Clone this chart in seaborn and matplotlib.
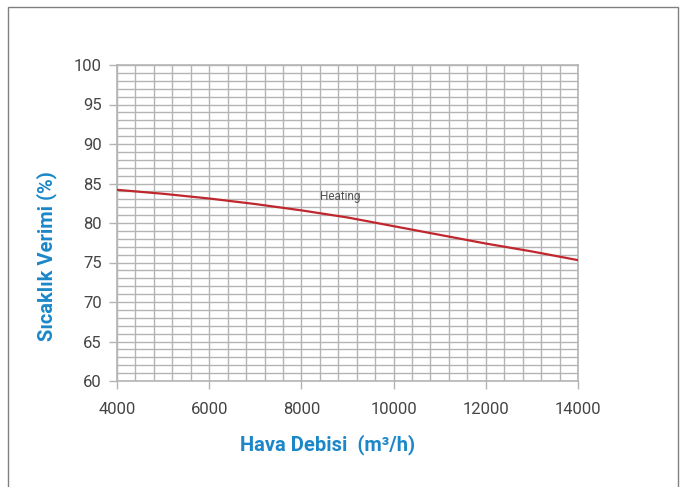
import numpy as np
import pandas as pd
import matplotlib
matplotlib.use("Agg")
import matplotlib.pyplot as plt
import matplotlib.ticker as mticker
from matplotlib.patches import Rectangle
import seaborn as sns

# ── Data ────────────────────────────────────────────────────────────────────
airflow = [4000, 5000, 6000, 7000, 8000, 9000, 10000, 11000, 12000, 13000, 14000]
efficiency = [84.2, 83.7, 83.1, 82.4, 81.6, 80.7, 79.6, 78.5, 77.4, 76.4, 75.3]
df = pd.DataFrame({"Airflow": airflow, "Efficiency": efficiency})

sns.set_theme(style="white")
plt.rcParams["font.family"] = ["Roboto", "DejaVu Sans"]

GRID = "#b4b4b4"
BLUE = "#1b87c9"
TEXT = "#454545"

fig = plt.figure(figsize=(6.88, 4.87), dpi=100)
ax = fig.add_axes([117 / 688, 1 - 381 / 487, 461 / 688, 316 / 487])

sns.lineplot(data=df, x="Airflow", y="Efficiency", ax=ax, color="#c0272d",
             linewidth=1.6, zorder=3)

ax.set_xlim(4000, 14000)
ax.set_ylim(60, 100)
ax.xaxis.set_major_locator(mticker.MultipleLocator(2000))
ax.xaxis.set_minor_locator(mticker.MultipleLocator(400))
ax.yaxis.set_major_locator(mticker.MultipleLocator(5))
ax.yaxis.set_minor_locator(mticker.MultipleLocator(1))
ax.grid(which="both", color=GRID, linewidth=1.0)
ax.set_axisbelow(True)

for s in ax.spines.values():
    s.set_color(GRID)
    s.set_linewidth(1.2)

ax.tick_params(which="major", direction="out", length=6, width=1, color=GRID,
               labelsize=12, labelcolor=TEXT, left=True, bottom=True)
ax.tick_params(axis="x", which="major", pad=9)
ax.tick_params(axis="y", which="major", pad=5)
ax.tick_params(which="minor", length=0)

ax.set_xlabel("Hava Debisi  (m³/h)", color=BLUE, fontsize=14.5, fontweight="bold")
ax.set_ylabel("Sıcaklık Verimi (%)", color=BLUE, fontsize=14.5, fontweight="bold")
ax.xaxis.label.set_va("center")
ax.yaxis.label.set_va("center")
ax.xaxis.set_label_coords((328 - 117) / 461, (381 - 445) / 316)
ax.yaxis.set_label_coords((47 - 117) / 461, (381 - 256) / 316)

ax.text(8850, 83.3, "Heating", fontsize=8.5, color="#555555", ha="center", va="center")

# outer frame
fig.add_artist(Rectangle((8 / 688, -0.05), 670 / 688, 1.05 - 7 / 487,
                         transform=fig.transFigure, fill=False,
                         edgecolor="#808080", linewidth=1.0))

fig.savefig("out.png", dpi=100)
